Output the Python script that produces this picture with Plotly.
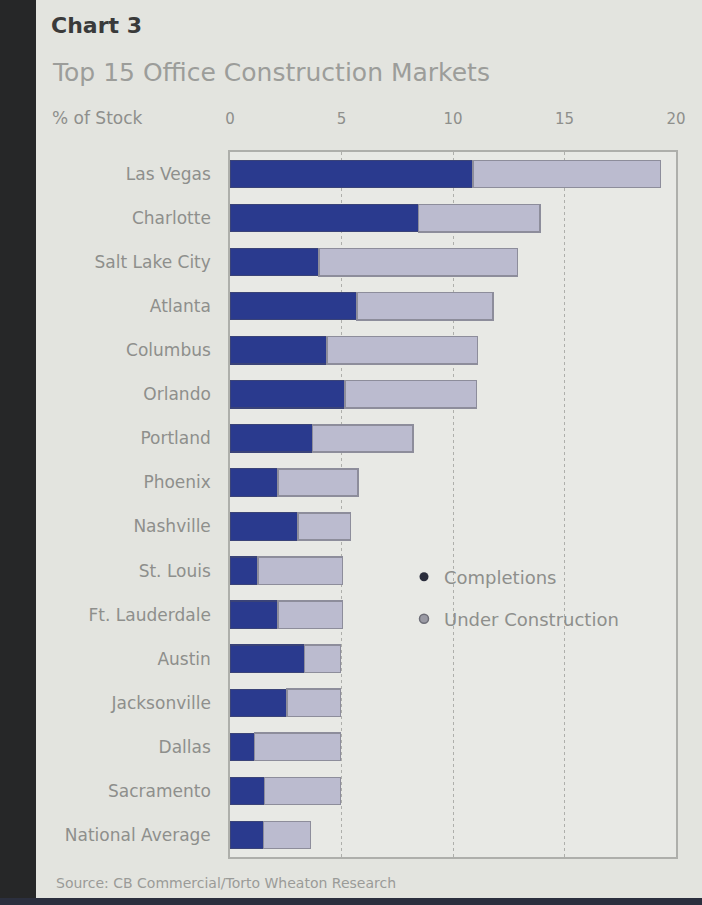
import plotly.graph_objects as go

# ---- data ----
markets = ["Las Vegas", "Charlotte", "Salt Lake City", "Atlanta", "Columbus", "Orlando",
           "Portland", "Phoenix", "Nashville", "St. Louis", "Ft. Lauderdale", "Austin",
           "Jacksonville", "Dallas", "Sacramento", "National Average"]
completions = [10.9, 8.45, 4.0, 5.7, 4.35, 5.15, 3.7, 2.15, 3.05, 1.25, 2.15, 3.35,
               2.55, 1.1, 1.55, 1.5]
under_construction = [8.4, 5.45, 8.9, 6.1, 6.75, 5.9, 4.5, 3.6, 2.35, 3.8, 2.9, 1.6,
                      2.4, 3.85, 3.4, 2.1]
x_ticks = [0, 5, 10, 15, 20]

BG = "#e3e4df"
PLOT_BG = "#e8e9e5"
NAVY = "#2a3a8e"
LAV = "#bbbbcf"
GRID = "#aeafab"
TXT = "#8e8f8c"
FONT = "DejaVu Sans"

fig = go.Figure()
fig.add_trace(go.Bar(y=markets, x=completions, orientation="h", name="Completions",
                     marker=dict(color=NAVY, line=dict(color="#3a4378", width=1.2)),
                     width=0.62, showlegend=False))
fig.add_trace(go.Bar(y=markets, x=under_construction, orientation="h",
                     name="Under Construction",
                     marker=dict(color=LAV, line=dict(color="#8d8d9b", width=1.5)),
                     width=0.62, showlegend=False))
# legend entries (circle markers as in the original)
fig.add_trace(go.Scatter(x=[None], y=[None], mode="markers", name="Completions",
                         marker=dict(symbol="circle", size=9, color="#2a2d3c"),
                         legend="legend"))
fig.add_trace(go.Scatter(x=[None], y=[None], mode="markers", name="Under Construction",
                         marker=dict(symbol="circle", size=9, color="#9a9aa4",
                                     line=dict(color="#6e6e78", width=1.5)),
                         legend="legend2"))

L, R, T, B = 230, 26, 152, 48
W, H = 702, 905
pw, ph = W - L - R, H - T - B

def px(x):
    return (x - L) / pw

def py(y):
    return (H - B - y) / ph

fig.update_layout(
    width=W, height=H,
    margin=dict(l=L, r=R, t=T, b=B),
    paper_bgcolor=BG, plot_bgcolor=PLOT_BG,
    barmode="stack", bargap=0.38,
    font=dict(family=FONT, color=TXT, size=16),
    xaxis=dict(range=[0, 20], side="top", tickvals=x_ticks, ticks="",
               ticklabelstandoff=20, tickfont=dict(size=15, color=TXT),
               showgrid=True, gridcolor=GRID, griddash="dot", gridwidth=1.2,
               zeroline=False, showline=True, mirror=True, linecolor=GRID,
               linewidth=1.5, fixedrange=True),
    yaxis=dict(categoryorder="array", categoryarray=markets, autorange="reversed",
               ticks="", ticklabelstandoff=14, tickfont=dict(size=17, color=TXT),
               showline=True, mirror=True, linecolor=GRID, linewidth=1.5,
               fixedrange=True),
    legend=dict(x=px(404), y=py(577), xanchor="left", yanchor="middle",
                bgcolor="rgba(0,0,0,0)", font=dict(size=18, color=TXT)),
    legend2=dict(x=px(404), y=py(619), xanchor="left", yanchor="middle",
                 bgcolor="rgba(0,0,0,0)", font=dict(size=18, color=TXT)),
    shapes=[
        dict(type="rect", xref="paper", yref="paper", x0=px(-5), x1=px(36),
             y0=py(910), y1=py(-5), fillcolor="#262728", line=dict(width=0),
             layer="above"),
        dict(type="rect", xref="paper", yref="paper", x0=px(-5), x1=px(710),
             y0=py(910), y1=py(898), fillcolor="#2b2f3e", line=dict(width=0),
             layer="above"),
    ],
    annotations=[
        dict(text="<b>Chart 3</b>", xref="paper", yref="paper", x=px(49), y=py(25),
             xanchor="left", yanchor="middle", showarrow=False,
             font=dict(size=22, color="#3a3a3a", family=FONT)),
        dict(text="Top 15 Office Construction Markets", xref="paper", yref="paper",
             x=px(50), y=py(72), xanchor="left", yanchor="middle", showarrow=False,
             font=dict(size=25, color="#9c9d9a", family=FONT)),
        dict(text="% of Stock", xref="paper", yref="paper", x=px(50), y=py(118),
             xanchor="left", yanchor="middle", showarrow=False,
             font=dict(size=17, color=TXT, family=FONT)),
        dict(text="Source: CB Commercial/Torto Wheaton Research", xref="paper",
             yref="paper", x=px(54), y=py(883), xanchor="left", yanchor="middle",
             showarrow=False, font=dict(size=14, color="#9a9b98", family=FONT)),
    ],
)

fig.write_html(
    "out.html",
    config={"displayModeBar": False},
    post_script="document.body.style.margin='0';document.body.style.background='%s';" % BG,
)
